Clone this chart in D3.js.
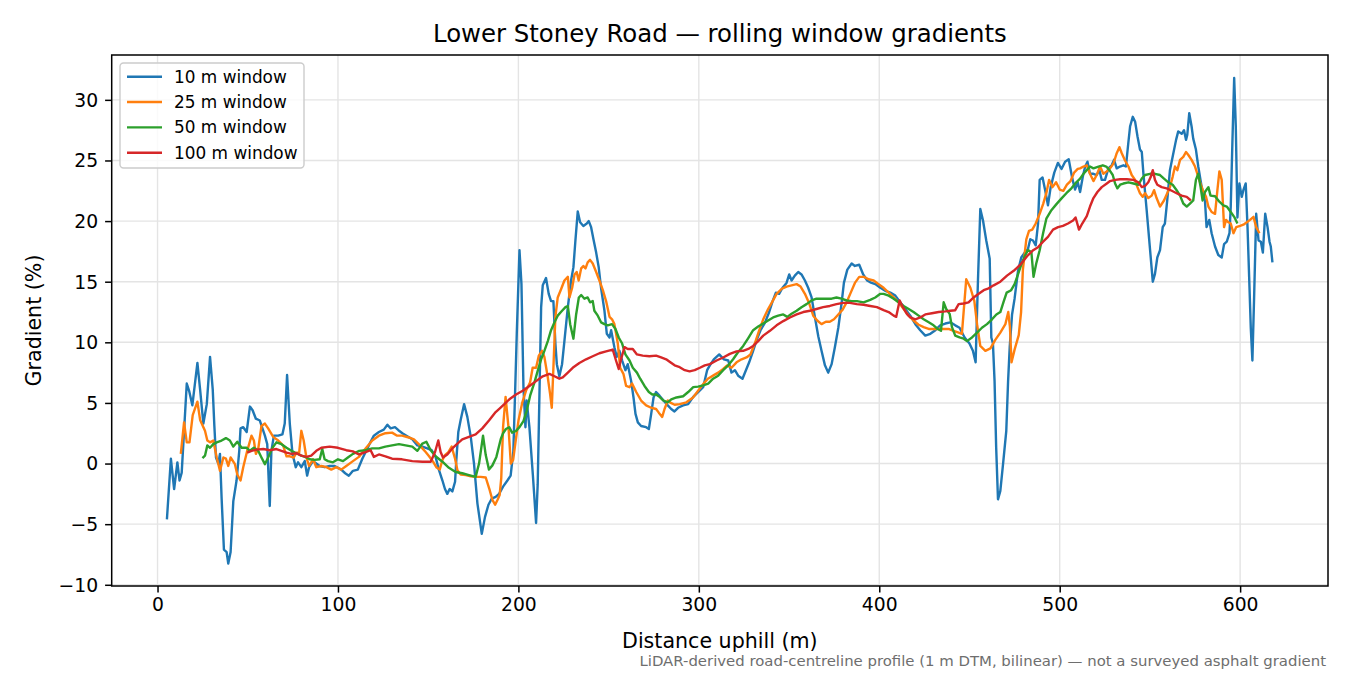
<!DOCTYPE html>
<html>
<head>
<meta charset="utf-8">
<script src="https://cdn.jsdelivr.net/npm/d3@7"></script>
<style>
  html, body { margin: 0; padding: 0; background: #fff; }
  svg { display: block; font-family: "DejaVu Sans", sans-serif; }
</style>
</head>
<body>
<svg id="chart" width="1350" height="675"></svg>
<script>
// ---------------- data (distance m, gradient %) ----------------
const seriesNames = ["10 m window", "25 m window", "50 m window", "100 m window"];
const seriesColors = ["#1f77b4", "#ff7f0e", "#2ca02c", "#d62728"];
const xTicks = [0, 100, 200, 300, 400, 500, 600];
const yTicks = [-10, -5, 0, 5, 10, 15, 20, 25, 30];

const w10 = [[5.2,-4.6],[7.4,0.4],[9.2,-2.1],[11,0.1],[12.2,-1.4],[13.4,-0.75],[16.2,6.6],[17.5,6.0],[19.3,4.8],[22.1,8.3],[23.6,6.1],[25.4,3.3],[27.3,4.9],[29.1,8.8],[30.6,6.1],[31.5,3.1],[32.4,0.5],[33.7,0],[34.6,0.8],[35.5,-2.8],[36.8,-7.1],[38.3,-7.3],[39.2,-8.25],[40.5,-7.3],[42,-3.1],[43.8,-1.4],[45.3,1.05],[46,2.9],[47.5,3.0],[49.4,2.6],[51.2,4.7],[52.7,4.4],[54.5,3.7],[56.7,3.55],[59.5,2.3],[60.8,1.6],[62.2,-3.5],[63.1,1.05],[64.5,2.3],[66.9,2.3],[69.2,2.4],[70.5,3.3],[71.8,7.3],[73.3,3.3],[74.8,0.8],[76.6,-0.3],[77.9,0.1],[79.7,-0.3],[81.6,0.2],[82.9,-1.0],[84,-0.3],[86.2,0.2],[88,0],[89.9,-0.2],[92.6,-0.3],[95.4,-0.2],[98.2,-0.2],[101.8,-0.5],[104,-0.8],[106,-1.0],[108.3,-0.6],[111,-0.5],[113.5,0.4],[117.1,1.5],[119.9,2.3],[122.7,2.6],[125.4,2.8],[127.4,3.2],[129.2,2.9],[131.6,3.0],[133.5,2.75],[135.7,2.5],[138.4,2.25],[141.2,2.0],[144,1.5],[146.8,1.4],[149.5,1.25],[151.9,1.1],[154.1,0.55],[156,-0.55],[157.9,-1.4],[159.3,-2.1],[160.6,-2.5],[161.9,-2.1],[163.4,-2.3],[164.9,-1.5],[165.6,0.3],[166.7,2.6],[168,3.6],[169.9,4.9],[171.7,3.85],[173.6,2.2],[175.4,0],[177.3,-3.3],[179.7,-5.8],[181.5,-4.4],[183.4,-3.4],[185.2,-2.9],[187.4,-2.75],[189.3,-2.5],[191.5,-1.9],[193.9,-1.4],[195.7,-1.0],[197.2,1.0],[198.2,6],[199.1,10.7],[200.6,17.6],[201.7,14.8],[202.8,6.3],[203.9,3.0],[204.6,5.2],[206.1,3.0],[208,-0.9],[209.8,-4.9],[210.7,-1.7],[211.6,5.2],[212.6,12.9],[213.5,14.7],[215.3,15.3],[216.8,14.0],[218.1,13.4],[219.4,13.4],[220.5,9.9],[221.3,8.2],[222.7,7.2],[224.2,8.2],[225.5,10.1],[227.4,12.9],[229.2,15.1],[230.5,16.2],[231.6,18.4],[232.9,20.8],[234.2,19.9],[236,19.6],[237.9,19.8],[239,20.0],[240.3,19.5],[241.6,18.5],[243.1,17.4],[244.5,16.2],[245.8,14.5],[247.7,12.6],[249,10.7],[250.5,10.4],[251.4,11.0],[253.2,9.6],[254.5,8.8],[256,9.3],[257.5,8.5],[259.3,7.7],[260.6,8.2],[262.5,6.8],[263.8,5.45],[264.9,4.1],[266.2,3.4],[268,3.1],[270.8,3.0],[272.3,2.85],[273.6,4.1],[274.9,5.45],[276.3,5.9],[278.2,5.6],[280.4,5.2],[282.8,4.8],[284.7,4.5],[286.5,4.3],[288.5,4.6],[291.3,4.8],[294.1,4.9],[296.9,5.5],[299.6,5.9],[302.4,6.3],[304.6,7.7],[306.1,8.1],[308.3,8.6],[311.3,9.0],[313.9,8.6],[316.3,8.5],[318.1,7.5],[320,7.7],[321.8,7.25],[324.2,7.0],[326.1,7.7],[327.9,8.35],[330.1,9.3],[332.3,10.3],[334.2,11.0],[336.6,11.6],[339,12.5],[340.9,13.4],[342.7,14.1],[344.5,14.0],[346.4,14.5],[348.6,14.9],[350.1,15.6],[351.4,15.1],[353.2,15.5],[355.1,15.8],[356.9,15.6],[358.8,15.1],[360.6,14.5],[362.5,13.7],[364.3,12.1],[366.2,10.5],[368,9.3],[369.9,8.1],[371.7,7.5],[373.6,8.2],[375.4,9.6],[377.3,11.2],[379.1,13.2],[380.4,14.9],[382.3,16.0],[384.7,16.5],[386.5,16.3],[388.9,16.4],[391.1,15.6],[393.3,15.1],[395,14.95],[397.8,14.8],[400.6,14.5],[403.3,14.25],[406.1,14.1],[408.9,13.85],[411.6,13.3],[414.4,12.75],[417.2,12.2],[420,11.5],[422.7,11.0],[425.5,10.55],[428.3,10.7],[431.1,11.0],[433.8,11.4],[436.6,11.55],[439.4,11.65],[442.1,11.4],[444.5,11.2],[447.3,10.4],[450,9.9],[451.9,9.3],[453.4,8.35],[454.7,15.1],[456,21.0],[457.5,20.05],[459.3,18.4],[461.2,16.9],[462.1,10.4],[463,9.9],[463.9,6.8],[464.8,1.3],[465.8,-2.95],[467.1,-2.25],[468.6,-0.05],[470.4,2.7],[471.4,6.8],[472.3,9.6],[473.6,12.3],[475,13.6],[476.9,15.9],[478.7,17.0],[480.6,17.4],[482.4,17.7],[483.7,18.5],[485.2,18.4],[486.7,18.0],[488,19.8],[488.9,23.4],[490.5,23.6],[492,22.5],[493.5,21.3],[495,22.8],[497,24.0],[499,24.8],[501,24.3],[503,24.9],[505,25.1],[507,23.5],[508.5,22.6],[510,23.2],[511.3,22.4],[512.8,23.65],[514.1,24.5],[515.4,24.9],[516.8,23.9],[518.7,23.9],[520.5,23.8],[522,24.2],[523.3,23.4],[525.1,23.4],[527,24.35],[528.8,24.6],[530.1,25.05],[531.6,24.35],[533.4,24.5],[535.3,24.6],[536.7,24.5],[538,26.4],[539,27.8],[540.5,28.6],[541.8,28.2],[543.1,27.0],[544.5,25.9],[545.5,25.7],[546.4,23.9],[548.2,20.9],[550.1,17.6],[551.6,15.0],[552.8,15.65],[554.1,17.0],[555.6,17.6],[557.1,19.5],[558.3,19.8],[559.6,21.7],[561.1,24.2],[562.6,25.3],[564.5,26.7],[565.7,27.4],[567.6,27.2],[568.9,27.5],[570,26.7],[570.7,27.1],[571.8,28.9],[573.1,27.8],[574,26.8],[575.5,25.9],[576.8,24.5],[578.7,22.8],[580.5,21.7],[581.4,19.5],[582.9,20.1],[584.2,19.0],[586.1,17.9],[587.9,17.2],[589.8,17.0],[591.1,18.1],[592.6,18.3],[594.1,19.0],[594.8,21.2],[595.7,26.4],[596.7,31.8],[597.6,27.8],[598.5,20.3],[599.6,23.1],[600.9,22.0],[601.8,22.55],[603.1,23.1],[604.1,19.5],[605,15.4],[605.9,11.2],[606.8,8.5],[607.8,14.0],[608.9,20.6],[610.2,18.4],[611.5,18.3],[612.6,17.4],[613.9,20.6],[615.2,19.5],[616.3,18.3],[617,17.9],[617.9,16.6]];

const w25 = [[12.9,0.8],[14.7,3.4],[16.2,1.75],[17.7,1.75],[19.5,4.0],[22.1,5.1],[23.6,3.6],[26.3,2.7],[27.6,1.9],[29.1,1.75],[30.9,1.9],[32.8,0.5],[34.6,-0.6],[36.5,0.5],[37.9,0.4],[39.2,-0.2],[40.5,0.5],[42.9,-0.05],[44.2,-0.9],[46,-1.4],[47.5,-0.3],[49.7,1.05],[52.1,2.3],[53.4,1.9],[54.5,0.8],[55.8,1.2],[57.6,3.1],[59.5,3.3],[61.3,2.9],[64.1,2.2],[66.9,1.9],[69.6,1.5],[71.5,0.6],[73.3,0.6],[75.5,0.5],[77,0.9],[78.5,0.9],[79.7,2.7],[81,1.9],[82.5,0.5],[84,-0.2],[86.2,0.35],[88,-0.3],[90.8,-0.2],[93.6,-0.3],[96.3,-0.5],[99.1,-0.3],[101.8,-0.5],[104.6,-0.2],[108.3,0.2],[111.6,0.55],[115.3,1.25],[119,1.9],[122.7,2.3],[126.3,2.5],[130,2.55],[132.8,2.3],[135.5,2.3],[139.3,2.15],[142.1,2.0],[144.5,1.65],[146.8,1.25],[148.6,0.95],[150.5,0.6],[152.7,0.15],[154.5,-0.3],[156.4,-0.5],[157.9,0.3],[159.3,0.7],[161.2,0.95],[163,1.4],[164.9,0.4],[166.2,-0.55],[168,-0.9],[170.8,-0.95],[173.6,-1.05],[176.3,-1.1],[179.1,-1.1],[181.9,-1.15],[184.1,-2.2],[185.6,-3.0],[187.1,-3.4],[188.4,-3.0],[189.6,-2.6],[190.5,-1.2],[191.5,3.0],[192.9,5.5],[194.5,3.0],[195.8,0.0],[197.1,0.3],[198.6,2.0],[200.1,3.6],[202.1,5.0],[204.2,6.0],[206.5,6.7],[207.9,7.9],[209.8,7.9],[211.3,8.9],[213.1,9.3],[214.4,8.8],[216.3,7.1],[217.6,5.7],[218.5,4.6],[219.4,7.9],[220.5,12.1],[221.8,13.7],[223.7,14.4],[225.5,15.1],[227.4,15.4],[228.3,13.7],[229.8,14.5],[231.1,15.6],[232.3,15.8],[233.4,15.1],[234.8,16.1],[236,16.3],[237.2,16.1],[238.4,16.6],[239.7,16.8],[241.2,16.5],[243.1,15.8],[244.9,15.1],[246.8,14.3],[248.6,13.4],[250.5,12.1],[251.9,11.9],[253.2,11.5],[255.1,9.9],[256.4,7.9],[258.2,7.4],[259.7,6.4],[261.6,6.3],[263,6.6],[265.3,5.9],[268,5.2],[270.8,4.8],[273.6,4.6],[276.3,4.5],[277.8,4.2],[279.7,3.85],[281,4.5],[282.8,5.2],[284.5,5.0],[286.6,4.85],[289.4,4.9],[293.1,5.05],[296.8,5.45],[299.6,6.0],[302.4,6.55],[305,7.0],[307.9,7.25],[310.7,7.5],[313.5,7.8],[315.7,8.1],[318.1,7.9],[320.9,8.35],[323.7,8.6],[326.4,8.75],[328.6,9.0],[331,9.9],[333.5,11.0],[335.7,11.9],[338.4,12.75],[340.9,13.4],[343.1,14.0],[345.8,14.4],[348.6,14.6],[351.4,14.7],[354.2,14.8],[356.4,14.6],[358.8,14.0],[361.2,13.2],[363.4,12.2],[365.6,11.8],[368,11.5],[370.4,11.7],[372.6,11.7],[374.9,11.9],[377.3,12.3],[379.7,12.7],[381.9,13.3],[384.2,14.1],[386.5,14.9],[388.9,15.4],[391.5,15.4],[394.1,15.2],[396.9,15.1],[399.6,14.8],[402.4,14.5],[405.2,14.1],[408,13.7],[410.7,13.3],[413.5,12.75],[416.3,12.2],[419,11.8],[421.8,11.45],[424.6,11.25],[427.4,11.1],[430.1,11.1],[432.9,11.1],[435.7,11.1],[438.4,11.1],[441.2,10.95],[444,10.8],[445.8,10.7],[447.1,13.15],[448.2,15.2],[450.5,14.5],[452.7,13.4],[454.2,11.5],[456,9.7],[458.8,9.3],[461.6,9.5],[464.3,10.2],[467.1,10.8],[469.9,11.5],[471.5,12.5],[472.4,11.3],[473.3,8.35],[475,9.4],[477.3,10.6],[478.6,12.5],[479.6,16.0],[481.5,18.5],[483,19.2],[484.8,19.3],[486.7,19.8],[488.9,20.6],[490.8,21.4],[492.6,22.3],[494.1,23.4],[496,22.8],[498,23.2],[500,22.6],[502,22.5],[504,23.0],[506,23.3],[508,24.0],[510,24.3],[511.3,24.35],[513.2,24.5],[515,24.6],[516.8,23.9],[518.7,23.3],[520.5,23.8],[522.4,24.5],[524.2,23.9],[526.1,24.1],[527.9,24.35],[529.8,24.75],[531.6,25.6],[533.1,26.1],[534.4,25.6],[536.2,25.0],[538.1,24.5],[539.9,23.8],[541.8,23.4],[543.1,22.8],[544.5,22.3],[546,22.0],[547.3,22.3],[549.1,21.9],[551,22.1],[552.3,22.55],[553.7,21.9],[555.6,21.2],[557.8,21.7],[559.6,22.3],[561.1,22.8],[562.6,23.65],[563.9,24.5],[565.2,24.2],[566.7,25.05],[568.5,25.3],[570,25.7],[571.3,25.45],[573.1,25.05],[575,24.5],[576.3,23.9],[577.8,23.2],[579.3,22.55],[581.1,22.0],[582.4,21.2],[584.2,20.75],[586.1,20.6],[587.4,22.55],[588.5,24.1],[589.8,23.4],[591.1,19.5],[592.2,20.1],[593.5,19.9],[594.8,19.8],[596.3,19.0],[597.8,19.5],[600,19.6],[601.8,19.7],[603.7,19.9],[605.5,20.1],[607.4,20.35],[608.9,19.5],[610.7,19.0]];

const w50 = [[24.9,0.45],[26.3,0.65],[27.6,1.5],[29.1,1.3],[30.9,1.6],[32.8,1.75],[35.5,1.9],[37.9,2.1],[40.1,1.9],[42,1.4],[44.2,1.8],[46.6,1.3],[49.4,1.3],[51.2,1.05],[53.4,1.3],[55.8,1.05],[57.6,0.5],[59.5,-0.05],[61.3,0.5],[63.7,1.3],[65.9,1.75],[68.7,1.6],[71.5,1.3],[74.2,1.05],[77,0.85],[79.7,0.65],[82.5,0.5],[84.3,0.35],[87.1,0.3],[89.9,0.35],[91.3,1.2],[92.6,0.35],[94.5,0.2],[97.2,0.1],[100,0.35],[102.8,0.2],[105.5,0.5],[108.3,0.8],[111.8,1.05],[115.3,1.1],[119,1.25],[122.7,1.25],[126.3,1.4],[130,1.5],[133.8,1.6],[137.5,1.5],[141.2,1.4],[144,1.05],[146.8,1.65],[149,1.8],[151.4,1.1],[154.1,0.6],[157.9,0.15],[161.5,-0.35],[165.2,-0.7],[168.9,-0.8],[172.6,-0.95],[176.3,-1.1],[178.2,0],[180.4,2.3],[181.9,0.7],[183.7,-0.5],[185.6,-0.15],[187.8,0.55],[190.2,2.0],[191.5,2.5],[193.1,2.85],[194.9,3.0],[196.5,2.55],[198.7,2.7],[200.6,3.0],[202.8,3.5],[204.6,4.35],[206.5,5.6],[208.9,6.7],[210.7,7.65],[212.6,8.6],[214.4,9.3],[216.3,10.1],[218.1,11.0],[220,11.65],[221.8,12.2],[224.2,12.6],[226.1,12.9],[227.4,13.0],[228.7,11.5],[230.5,10.3],[232,12.3],[233.5,13.7],[234.8,13.9],[236.6,13.6],[238.4,13.7],[239.7,13.3],[241.2,13.4],[242.1,12.6],[244,12.2],[245.8,11.65],[247.7,11.5],[249.5,11.4],[251.9,11.5],[253.8,11.1],[255.6,10.4],[257.5,9.9],[259.3,9.0],[261.6,8.5],[263.4,7.9],[265.7,7.5],[267.5,7.0],[269.9,6.4],[272.3,5.9],[274.2,5.7],[276.3,5.7],[278.2,5.5],[280.4,5.2],[282.8,5.05],[284.7,5.3],[287.6,5.45],[291.3,5.55],[294.1,5.9],[296.9,6.3],[299.6,6.35],[302.4,6.45],[305.2,6.6],[307.9,7.0],[310.7,7.25],[313.5,7.7],[316.3,8.1],[319,8.6],[321.8,9.2],[324.6,9.7],[327.4,10.35],[330.1,11.0],[332.9,11.3],[335.7,11.55],[338.4,11.8],[341.2,12.05],[344,12.2],[346.8,12.3],[349,12.1],[351.4,12.35],[354.2,12.6],[356.9,12.9],[359.7,13.15],[362.5,13.45],[365.2,13.6],[368,13.6],[370.8,13.6],[373.6,13.6],[376.3,13.7],[379.1,13.6],[381.9,13.45],[384.7,13.4],[387.6,13.4],[391.3,13.3],[395,13.5],[397.8,13.7],[400.6,14.0],[402.4,14.0],[405.2,13.85],[408,13.6],[410.7,13.3],[413.5,13.0],[416.3,12.75],[419,12.5],[421.8,12.2],[424.6,11.9],[427.4,11.65],[430.1,11.4],[432.4,11.1],[434.2,10.95],[435.7,13.3],[437.1,12.75],[439,12.35],[440.3,11.25],[442.1,10.55],[444.5,10.4],[446.8,10.3],[448.6,10.1],[451.4,10.4],[454.2,10.8],[456.9,11.2],[459.7,11.5],[462.5,11.9],[464.9,12.3],[467.1,12.5],[468.8,13.3],[470.6,14.1],[473.1,14.3],[475,14.8],[476.9,15.6],[478.7,16.4],[480.6,17.1],[482.4,17.6],[484.3,17.45],[485.5,15.4],[487,16.5],[488.9,17.6],[490.8,19.0],[492.6,20.2],[495.4,20.9],[498.2,21.4],[500.9,21.85],[503.7,22.3],[506.5,22.7],[509.2,23.2],[511.3,23.5],[513.2,23.9],[515,24.2],[516.8,24.5],[518.7,24.35],[521.5,24.5],[523.9,24.6],[525.8,24.5],[527.6,24.2],[529.4,23.8],[530.7,23.1],[532,22.7],[533.5,23.0],[535.3,23.1],[538.1,23.2],[540.9,23.1],[543.6,23.0],[545.5,23.5],[547.3,23.8],[550.1,23.9],[552.8,23.9],[555.6,23.8],[557.8,23.5],[560.2,23.2],[562.6,23.0],[564.8,22.55],[566.7,22.1],[568.5,21.45],[570.4,21.2],[572.2,21.45],[574,21.7],[575.5,23.4],[576.8,23.9],[578.1,22.8],[579.2,21.7],[580.5,22.4],[582.4,22.8],[583.6,22.1],[586.1,22.05],[588.5,21.6],[590.7,21.3],[592.6,21.2],[594.8,20.75],[596.7,20.35],[598.5,19.8]];

const w100 = [[49.7,0.9],[52.1,1.05],[54.9,1.15],[58.6,1.2],[62.2,1.1],[65.9,1.2],[68.7,1.05],[71.5,0.9],[74.2,0.8],[77,0.85],[79.7,0.65],[82.5,0.55],[85.2,0.65],[88,1.05],[90.8,1.3],[95.4,1.4],[100,1.3],[104.6,1.1],[108.3,1.0],[111.6,0.75],[115.3,0.95],[118.1,1.1],[119.9,0.55],[122.7,0.75],[126.3,0.6],[130,0.4],[135.5,0.35],[141.2,0.2],[146.8,0.15],[151.4,0.15],[153.8,0.95],[155.6,1.9],[156.9,0.95],[158.2,0.5],[160.6,0.75],[163.4,1.25],[166.2,1.65],[168.9,2.0],[172.6,2.2],[176.3,2.4],[180,2.9],[183.7,3.55],[187.4,4.25],[190,4.6],[192.2,4.9],[195,5.3],[198.7,5.7],[202.4,6.0],[206.1,6.4],[209.8,6.8],[213.5,7.2],[217.2,7.4],[220,7.2],[222.7,7.0],[224.6,7.1],[227.4,7.5],[230.1,7.9],[233.8,8.3],[237.5,8.6],[241.2,8.85],[244.9,9.1],[248.6,9.25],[252.3,9.4],[254.1,8.5],[255.6,7.8],[256.9,8.6],[258.8,9.6],[260.6,9.45],[263.4,9.45],[265.7,9.0],[268.9,8.9],[272.6,8.85],[276.3,8.9],[279.1,8.75],[281.9,8.6],[284.2,8.35],[286.6,8.1],[289.4,7.95],[292.2,7.7],[294.9,7.6],[297.7,7.7],[300.6,7.9],[303.3,8.1],[306.1,8.2],[309.8,8.5],[313.5,8.75],[317.2,9.05],[320.9,9.25],[324.6,9.3],[327.4,9.45],[330.1,9.7],[332.9,10.1],[335.7,10.55],[339.4,10.95],[343.1,11.4],[346.8,11.75],[350.5,12.05],[354.2,12.3],[357.9,12.5],[361.6,12.6],[365.2,12.75],[368.9,12.9],[372.6,13.0],[376.3,13.15],[380,13.25],[383.7,13.25],[387.6,13.15],[391.3,13.1],[395,13.0],[398.7,12.9],[402.4,12.65],[405.2,12.5],[408,12.2],[409.4,12.1],[411.3,13.45],[413.1,12.9],[415.3,12.35],[417.2,12.05],[420,11.9],[422.7,12.05],[425.5,12.3],[429.2,12.4],[432.9,12.5],[436.6,12.55],[439.4,12.6],[442.1,12.65],[444,13.15],[446.8,13.2],[449.5,13.3],[452.3,13.7],[455.1,14.0],[457.9,14.3],[460.6,14.45],[463.4,14.7],[467.1,15.0],[470.8,15.5],[474.5,15.9],[478.2,16.4],[481.9,17.1],[485.3,17.6],[488,17.85],[490.8,18.3],[493.5,18.7],[496.3,19.3],[499.1,19.5],[501.8,19.6],[504.6,19.8],[507.4,20.05],[508.8,20.3],[510.7,19.3],[512.5,19.8],[515,20.4],[516.8,21.2],[518.7,21.9],[520.9,22.4],[523.3,22.8],[526.1,23.1],[527.9,23.3],[530.7,23.4],[533.5,23.45],[537.2,23.45],[540.9,23.4],[543.6,23.2],[545.5,22.8],[547.3,22.9],[549.1,23.2],[550.5,23.65],[551.6,24.2],[552.8,23.4],[554.1,23.0],[556.5,22.8],[559.3,22.7],[562.1,22.5],[564.8,22.3],[567.6,22.1],[570.4,22.0],[572.7,21.7]];

const allSeries = [w10, w25, w50, w100];

const titleText = "Lower Stoney Road \u2014 rolling window gradients";
const xLabelText = "Distance uphill (m)";
const yLabelText = "Gradient (%)";
const noteText = "LiDAR-derived road-centreline profile (1 m DTM, bilinear) \u2014 not a surveyed asphalt gradient";

// ---------------- layout ----------------
const W = 1350, H = 675;
const plot = { left: 111.7, right: 1328, top: 55, bottom: 586 };

const svg = d3.select("#chart");
svg.append("rect").attr("width", W).attr("height", H).attr("fill", "#fff");

const x = d3.scaleLinear().domain([-25.4, 648.7]).range([plot.left, plot.right]);
const y = d3.scaleLinear().domain([-10.1, 33.7]).range([plot.bottom, plot.top]);

// grid
const grid = svg.append("g");
grid.selectAll("line.gx").data(xTicks).join("line")
  .attr("x1", d => x(d)).attr("x2", d => x(d))
  .attr("y1", plot.top).attr("y2", plot.bottom)
  .attr("stroke", "#e4e4e4").attr("stroke-width", 1.4);
grid.selectAll("line.gy").data(yTicks).join("line")
  .attr("x1", plot.left).attr("x2", plot.right)
  .attr("y1", d => y(d)).attr("y2", d => y(d))
  .attr("stroke", "#e4e4e4").attr("stroke-width", 1.4);

// clip
svg.append("clipPath").attr("id", "clip").append("rect")
  .attr("x", plot.left).attr("y", plot.top)
  .attr("width", plot.right - plot.left).attr("height", plot.bottom - plot.top);

const line = d3.line().x(d => x(d[0])).y(d => y(d[1]));
const lines = svg.append("g").attr("clip-path", "url(#clip)");
allSeries.forEach((s, i) => {
  lines.append("path").datum(s)
    .attr("d", line)
    .attr("fill", "none")
    .attr("stroke", seriesColors[i])
    .attr("stroke-width", 2.4)
    .attr("stroke-linejoin", "round")
    .attr("stroke-linecap", "butt");
});

// axes
const fmt = d => (d < 0 ? "\u2212" + Math.abs(d) : String(d));
const xAxis = d3.axisBottom(x).tickValues(xTicks).tickFormat(fmt).tickSize(6.6).tickPadding(5);
const yAxis = d3.axisLeft(y).tickValues(yTicks).tickFormat(fmt).tickSize(6.6).tickPadding(7);

const gx = svg.append("g").attr("transform", `translate(0,${plot.bottom})`).call(xAxis);
const gy = svg.append("g").attr("transform", `translate(${plot.left},0)`).call(yAxis);
[gx, gy].forEach(g => {
  g.select(".domain").remove();
  g.selectAll(".tick line").attr("stroke", "#000").attr("stroke-width", 1.5);
  g.selectAll(".tick text").attr("fill", "#000")
    .style("font-family", "DejaVu Sans").style("font-size", "18.75px");
});
gx.selectAll(".tick text").attr("dy", "0.71em");
gy.selectAll(".tick text").attr("dy", "0.34em");

// frame
svg.append("rect")
  .attr("x", plot.left).attr("y", plot.top)
  .attr("width", plot.right - plot.left).attr("height", plot.bottom - plot.top)
  .attr("fill", "none").attr("stroke", "#000").attr("stroke-width", 1.5);

// texts
svg.append("text").attr("x", (plot.left + plot.right) / 2).attr("y", 41.5)
  .attr("text-anchor", "middle").style("font-size", "24.4px").attr("fill", "#000")
  .text(titleText);
svg.append("text").attr("x", (plot.left + plot.right) / 2).attr("y", 647.5)
  .attr("text-anchor", "middle").style("font-size", "20.6px").attr("fill", "#000")
  .text(xLabelText);
svg.append("text").attr("transform", `translate(41,${(plot.top + plot.bottom) / 2}) rotate(-90)`)
  .attr("text-anchor", "middle").style("font-size", "20.6px").attr("fill", "#000")
  .text(yLabelText);
svg.append("text").attr("x", 1326).attr("y", 665.5)
  .attr("text-anchor", "end").style("font-size", "14.9px").attr("fill", "#6e6e6e")
  .text(noteText);

// legend
const lg = svg.append("g");
lg.append("rect").attr("x", 120).attr("y", 63).attr("width", 184).attr("height", 105)
  .attr("rx", 3.5).attr("fill", "#fff").attr("fill-opacity", 0.8)
  .attr("stroke", "#cccccc").attr("stroke-width", 1.4);
const rowY = d3.scaleLinear().domain([0, 3]).range([76.7, 152.7]);
seriesNames.forEach((name, i) => {
  lg.append("line").attr("x1", 127).attr("x2", 162)
    .attr("y1", rowY(i)).attr("y2", rowY(i))
    .attr("stroke", seriesColors[i]).attr("stroke-width", 2.4);
  lg.append("text").attr("x", 174).attr("y", rowY(i)).attr("dy", "0.36em")
    .style("font-size", "16.9px").attr("fill", "#000").text(name);
});
</script>
</body>
</html>
